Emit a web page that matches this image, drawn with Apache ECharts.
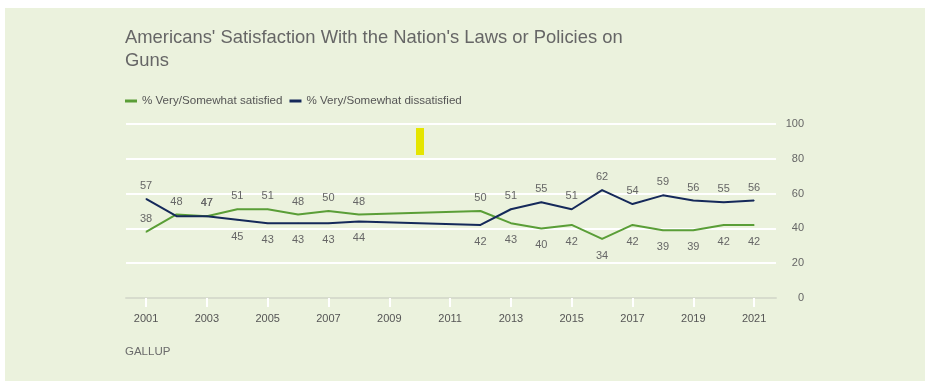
<!DOCTYPE html>
<html>
<head>
<meta charset="utf-8">
<script src="https://cdn.jsdelivr.net/npm/echarts@6/dist/echarts.min.js"></script>
<style>
html,body{margin:0;padding:0;background:#ffffff;}
#chart{width:929px;height:389px;}
</style>
</head>
<body>
<div id="chart"></div>
<script>
// ---- data ----
var years = [2001, 2002, 2003, 2004, 2005, 2006, 2007, 2008, 2012, 2013, 2014, 2015, 2016, 2017, 2018, 2019, 2020, 2021];
var satisfied = [38, 48, 47, 51, 51, 48, 50, 48, 50, 43, 40, 42, 34, 42, 39, 39, 42, 42];
var dissatisfied = [57, 47, 47, 45, 43, 43, 43, 44, 42, 51, 55, 51, 62, 54, 59, 56, 55, 56];
var xTickYears = [2001, 2003, 2005, 2007, 2009, 2011, 2013, 2015, 2017, 2019, 2021];
var seriesNames = ['% Very/Somewhat satisfied', '% Very/Somewhat dissatisfied'];
var titleText = "Americans' Satisfaction With the Nation's Laws or Policies on\nGuns";
var sourceText = 'GALLUP';

// ---- label placement: higher value above the line, lower below ----
function buildData(values, other, isSat) {
  return values.map(function (v, i) {
    var o = other[i];
    var pos;
    if (i === 0) pos = 'top';
    else if (v > o) pos = 'top';
    else if (v < o) pos = 'bottom';
    else pos = 'top';
    var show = true;
    // in the original the dissatisfied 2002 label is hidden under the satisfied one
    if (!isSat && years[i] === 2002) show = false;
    return {
      value: [years[i], v],
      label: { show: show, position: pos, distance: pos === 'top' ? 7 : 11 }
    };
  });
}

var GREEN = '#5a9e37';
var NAVY = '#15295a';
var FONT = 'Liberation Sans, Arial, sans-serif';

var chart = echarts.init(document.getElementById('chart'), null, { renderer: 'canvas' });
var option = {
  backgroundColor: '#ffffff',
  animation: false,
  graphic: [
    { type: 'rect', z: -10, shape: { x: 5, y: 8, width: 920, height: 373 }, style: { fill: '#ebf2dd' } },
    { type: 'rect', z: 10, shape: { x: 416, y: 128, width: 8, height: 27 }, style: { fill: '#e5e500' } },
    { type: 'text', left: 125, top: 346, style: { text: sourceText, fill: '#6b6b6b', font: '11.5px "Liberation Sans", Arial, sans-serif' } }
  ],
  title: {
    text: titleText,
    left: 120,
    top: 21,
    textStyle: { color: '#666666', fontSize: 18.4, fontWeight: 'normal', lineHeight: 23, fontFamily: FONT }
  },
  legend: {
    left: 120,
    top: 90,
    itemWidth: 12,
    itemHeight: 3,
    itemGap: 7,
    icon: 'rect',
    textStyle: { color: '#555555', fontSize: 11.6, fontFamily: FONT },
    data: seriesNames
  },
  grid: { left: 126, right: 153, top: 124, bottom: 91, containLabel: false },
  xAxis: {
    type: 'value',
    min: 2000.34,
    max: 2021.72,
    splitLine: { show: false },
    axisLine: { show: true, lineStyle: { color: '#d7dccd', width: 2 } },
    axisTick: { show: true, customValues: xTickYears, length: 9, lineStyle: { color: '#ffffff', width: 2 } },
    axisLabel: {
      customValues: xTickYears,
      margin: 15,
      color: '#555555',
      fontSize: 11,
      fontFamily: FONT,
      formatter: function (v) { return String(v); }
    }
  },
  yAxis: {
    type: 'value',
    position: 'right',
    min: 0,
    max: 100,
    interval: 20,
    axisLine: { show: false },
    axisTick: { show: false },
    splitLine: { show: true, lineStyle: { color: '#ffffff', width: 2 } },
    axisLabel: {
      align: 'right',
      margin: 28,
      color: '#666666',
      fontSize: 11,
      fontFamily: FONT
    }
  },
  series: [
    {
      name: seriesNames[0],
      type: 'line',
      data: buildData(satisfied, dissatisfied, true),
      symbol: 'circle',
      symbolSize: 1,
      lineStyle: { color: GREEN, width: 2 },
      itemStyle: { color: GREEN },
      label: { color: '#666666', fontSize: 11, fontFamily: FONT },
      z: 3
    },
    {
      name: seriesNames[1],
      type: 'line',
      data: buildData(dissatisfied, satisfied, false),
      symbol: 'circle',
      symbolSize: 1,
      lineStyle: { color: NAVY, width: 2 },
      itemStyle: { color: NAVY },
      label: { color: '#666666', fontSize: 11, fontFamily: FONT },
      z: 4
    }
  ]
};
chart.setOption(option);
</script>
</body>
</html>
